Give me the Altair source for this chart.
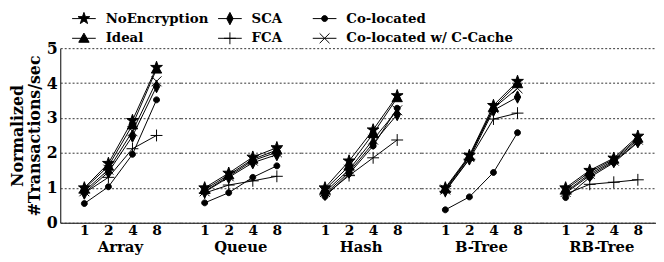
import altair as alt
import pandas as pd
import json

structures = ["Array", "Queue", "Hash", "B-Tree", "RB-Tree"]
threads = ["1", "2", "4", "8"]
series = ["NoEncryption", "SCA", "Co-located", "Ideal", "FCA", "Co-located w/ C-Cache"]

# values per series: Array(1,2,4,8), Queue, Hash, B-Tree, RB-Tree
no_encryption = [1.00, 1.70, 2.93, 4.45, 1.00, 1.42, 1.88, 2.15, 1.00, 1.77, 2.66, 3.64, 1.00, 1.93, 3.36, 4.05, 1.00, 1.50, 1.85, 2.48]
ideal = [0.97, 1.62, 2.80, 4.40, 0.95, 1.37, 1.82, 2.08, 0.95, 1.62, 2.55, 3.58, 0.97, 1.90, 3.30, 3.98, 0.95, 1.45, 1.82, 2.42]
sca = [0.85, 1.45, 2.48, 3.90, 0.88, 1.30, 1.72, 1.95, 0.82, 1.45, 2.28, 3.10, 0.92, 1.83, 3.22, 3.60, 0.85, 1.35, 1.75, 2.32]
fca = [0.85, 1.30, 2.12, 2.50, 0.85, 1.08, 1.20, 1.33, 0.80, 1.35, 1.86, 2.37, 0.90, 1.82, 2.97, 3.14, 0.82, 1.10, 1.16, 1.23]
co_located = [0.55, 1.03, 1.96, 3.52, 0.57, 0.86, 1.30, 1.63, 0.75, 1.40, 2.20, 3.28, 0.37, 0.74, 1.44, 2.58, 0.72, 1.30, 1.72, 2.30]
co_located_cc = [0.90, 1.52, 2.62, 4.05, 0.90, 1.33, 1.78, 2.02, 0.88, 1.52, 2.38, 3.22, 0.95, 1.88, 3.28, 3.85, 0.88, 1.40, 1.78, 2.38]

series_values = {
    "NoEncryption": no_encryption,
    "SCA": sca,
    "Co-located": co_located,
    "Ideal": ideal,
    "FCA": fca,
    "Co-located w/ C-Cache": co_located_cc,
}

rows = []
for s in series:
    vals = series_values[s]
    for i, st in enumerate(structures):
        for j, t in enumerate(threads):
            rows.append({"structure": st, "threads": t, "series": s, "value": vals[i * 4 + j]})
df = pd.DataFrame(rows)
leg_df = pd.DataFrame({"series": series, "idx": list(range(len(series)))})

star = "M0,-1.25L0.29,-0.4L1.19,-0.39L0.47,0.15L0.73,1.01L0,0.5L-0.73,1.01L-0.47,0.15L-1.19,-0.39L-0.29,-0.4Z"
diamond = "M0,-1.25L0.65,0L0,1.25L-0.65,0Z"
circle = "M0.6,0A0.6,0.6,0,1,1,-0.6,0A0.6,0.6,0,1,1,0.6,0Z"
triangle = "M0,-1.05L1.05,0.8L-1.05,0.8Z"
plus = "M-1.2,0H1.2M0,-1.2V1.2"
xcross = "M-1,-1L1,1M-1,1L1,-1"
marker_paths = [star, diamond, circle, triangle, plus, xcross]

marker_expr = "{" + ",".join(f"{json.dumps(s)}:{json.dumps(p)}" for s, p in zip(series, marker_paths)) + "}[datum.series]"

FONT = "DejaVu Serif"
W = 610

# ---------- legend (drawn as a small chart above the panels) ----------
col_start = [12, 160, 256]
leg_base = alt.Chart(leg_df).transform_calculate(
    marker=marker_expr,
    col="datum.idx % 3",
    row="floor(datum.idx / 3)",
).transform_calculate(
    x0=f"{json.dumps(col_start)}[datum.col]",
).transform_calculate(
    xm="datum.x0 + 12", x1="datum.x0 + 24", xt="datum.x0 + 34", yy="7 + datum.row * 20",
)
sx = alt.Scale(domain=[0, W], nice=False, zero=False)
sy = alt.Scale(domain=[0, 37], nice=False, reverse=True)

leg_rule = leg_base.mark_rule(color="black", strokeWidth=1).encode(
    x=alt.X("x0:Q", scale=sx, axis=None), x2="x1:Q", y=alt.Y("yy:Q", scale=sy, axis=None)
)
leg_pt = leg_base.mark_point(filled=True, color="black", stroke="black", strokeWidth=1, size=100, opacity=1).encode(
    x=alt.X("xm:Q", scale=sx, axis=None), y=alt.Y("yy:Q", scale=sy, axis=None),
    shape=alt.Shape("marker:N", scale=None)
)
leg_txt = leg_base.mark_text(align="left", baseline="middle", font=FONT, fontSize=13.5,
                             fontWeight="bold", color="black").encode(
    x=alt.X("xt:Q", scale=sx, axis=None), y=alt.Y("yy:Q", scale=sy, axis=None), text="series:N"
)
legend_chart = alt.layer(leg_rule, leg_pt, leg_txt).properties(width=W, height=37)

# ---------- panels ----------
base = alt.Chart(df).encode(
    x=alt.X("threads:O", sort=threads, scale=alt.Scale(type="point", padding=1),
            axis=alt.Axis(title=None, labelAngle=0, ticks=False, labelPadding=1,
                          labelFontSize=14, labelFontWeight="bold", labelFont=FONT,
                          labelColor="black", domainColor="black", grid=False)),
    y=alt.Y("value:Q", scale=alt.Scale(domain=[0, 5], nice=False),
            axis=alt.Axis(title=["Normalized", "#Transactions/sec"], values=[0, 1, 2, 3, 4, 5],
                          ticks=False, labelPadding=3, labelFontSize=16, labelFontWeight="bold",
                          labelFont=FONT, labelColor="black", titleFont=FONT, titleFontSize=16,
                          titleFontWeight="bold", titleColor="black", titlePadding=4,
                          titleLineHeight=17, domainColor="black",
                          grid=True, gridDash=[2, 2], gridColor="#333", gridWidth=1)),
    detail="series:N",
)

lines = base.mark_line(color="black", strokeWidth=1)

points = base.transform_calculate(marker=marker_expr).mark_point(
    filled=True, color="black", stroke="black", strokeWidth=1, size=100, opacity=1
).encode(
    shape=alt.Shape("marker:N", scale=None)
)

panels = alt.layer(lines, points).properties(
    width=W // 5, height=177
).facet(
    column=alt.Column("structure:N", sort=structures, title=None,
                      header=alt.Header(labelOrient="bottom", labelFont=FONT, labelFontSize=15,
                                        labelFontWeight="bold", labelColor="black", labelPadding=3))
).properties(spacing=0)

chart = alt.vconcat(legend_chart, panels, spacing=0, bounds="flush").properties(
    padding={"left": 1, "top": 0, "right": -6, "bottom": 0},
).configure_view(stroke=None)

chart.save("out.html", embed_options={"renderer": "svg", "actions": False})
